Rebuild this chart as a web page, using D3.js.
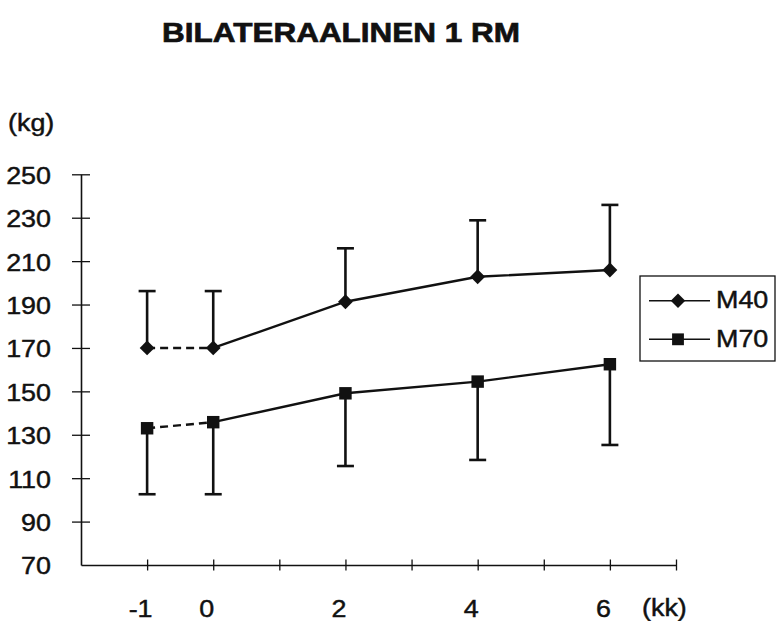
<!DOCTYPE html>
<html>
<head>
<meta charset="utf-8">
<script src="https://cdn.jsdelivr.net/npm/d3@7"></script>
<style>
  html, body { margin: 0; padding: 0; background: #fff; }
  svg { display: block; }
  text { font-family: "Liberation Sans", Arial, Helvetica, sans-serif; fill: #111; stroke: #111; stroke-width: 0.45px; }
</style>
</head>
<body>
<svg id="chart" width="776" height="621"></svg>
<script>
// Measurement times (months) and group means with one-sided error bars
const weeks = [-1, 0, 2, 4, 6];
const m40 = [170, 170, 191.3, 202.8, 205.9];
const m40Upper = [196.2, 196.2, 215.9, 228.8, 235.9];
const m70 = [133, 135.8, 149.1, 154.5, 162.5];
const m70Lower = [102.6, 102.6, 115.6, 118.4, 125.3];

const yTicks = [70, 90, 110, 130, 150, 170, 190, 210, 230, 250];
const xTicks = [-1, 0, 1, 2, 3, 4, 5, 6, 7];
const xLabels = [-1, 0, 2, 4, 6];
const seriesNames = ["M40", "M70"];

const ink = "#111";
const stretch = 1.12; // wide type

const svg = d3.select("#chart");

const x = d3.scaleLinear().domain([-2, 7]).range([81, 676]);
const y = d3.scaleLinear().domain([70, 250]).range([565, 174.3]);

// Title
svg.append("text")
  .attr("transform", "translate(162,42) scale(1.125,1)")
  .style("font-weight", "bold")
  .style("font-size", "28px")
  .style("stroke-width", "0.7px")
  .text("BILATERAALINEN 1 RM");

// Unit labels
svg.append("text")
  .attr("transform", `translate(8,131) scale(${stretch},1)`)
  .style("font-size", "24px")
  .text("(kg)");

svg.append("text")
  .attr("transform", `translate(642,616) scale(${stretch},1)`)
  .style("font-size", "24px")
  .text("(kk)");

// Y axis
const yAxis = svg.append("g")
  .attr("transform", `translate(${x(-2)},0)`)
  .call(d3.axisLeft(y).tickValues(yTicks).tickSizeOuter(0).tickSizeInner(9).tickPadding(0));
yAxis.select(".domain").attr("stroke", ink).attr("stroke-width", 1.6);
yAxis.selectAll(".tick line")
  .attr("stroke", ink).attr("stroke-width", 1.3)
  .attr("x1", -9).attr("x2", 9)
  .style("display", d => d === 70 ? "none" : null);
yAxis.selectAll(".tick text")
  .attr("x", -30 / stretch)
  .attr("dy", "0.37em")
  .attr("transform", `scale(${stretch},1)`)
  .style("font-size", "24px")
  .style("font-family", "'Liberation Sans', Arial, sans-serif")
  .attr("fill", ink);

// X axis
const xAxis = svg.append("g")
  .attr("transform", `translate(0,${y(70)})`)
  .call(d3.axisBottom(x).tickValues(xTicks).tickSizeOuter(0).tickSizeInner(5.5)
    .tickFormat(d => xLabels.includes(d) ? String(d) : ""));
xAxis.select(".domain").attr("stroke", ink).attr("stroke-width", 1.6);
xAxis.selectAll(".tick line")
  .attr("stroke", ink).attr("stroke-width", 1.3)
  .attr("y1", -5.5).attr("y2", 5.5);
xAxis.selectAll(".tick text")
  .attr("y", 52).attr("dy", 0)
  .attr("x", -7 / stretch)
  .attr("transform", `scale(${stretch},1)`)
  .style("font-size", "24px")
  .style("font-family", "'Liberation Sans', Arial, sans-serif")
  .attr("fill", ink);

const pts = (vals) => weeks.map((w, i) => [x(w), y(vals[i])]);
const line = d3.line();

function drawSeries(vals, ends, symbolType, symbolSize, rotate) {
  const g = svg.append("g");
  const p = pts(vals);
  // error bars
  g.selectAll("line.err").data(weeks).enter().append("line")
    .attr("x1", d => x(d)).attr("x2", d => x(d))
    .attr("y1", (d, i) => y(vals[i])).attr("y2", (d, i) => y(ends[i]))
    .attr("stroke", ink).attr("stroke-width", 2.6);
  g.selectAll("line.cap").data(weeks).enter().append("line")
    .attr("x1", d => x(d) - 8.5).attr("x2", d => x(d) + 8.5)
    .attr("y1", (d, i) => y(ends[i])).attr("y2", (d, i) => y(ends[i]))
    .attr("stroke", ink).attr("stroke-width", 2.6);
  // baseline segment dashed, follow-up solid
  g.append("path").attr("d", line(p.slice(0, 2)))
    .attr("fill", "none").attr("stroke", ink).attr("stroke-width", 2.4)
    .attr("stroke-dasharray", "8,5");
  g.append("path").attr("d", line(p.slice(1)))
    .attr("fill", "none").attr("stroke", ink).attr("stroke-width", 2.4);
  g.selectAll("path.mk").data(p).enter().append("path")
    .attr("d", d3.symbol().type(symbolType).size(symbolSize)())
    .attr("transform", d => `translate(${d[0]},${d[1]}) rotate(${rotate})`)
    .attr("fill", ink);
}

drawSeries(m40, m40Upper, d3.symbolSquare, 110, 45);
drawSeries(m70, m70Lower, d3.symbolSquare, 155, 0);

// Legend
const legend = svg.append("g");
legend.append("rect")
  .attr("x", 640).attr("y", 276).attr("width", 135).attr("height", 85)
  .attr("fill", "none").attr("stroke", ink).attr("stroke-width", 1.3);
const legendRows = [
  { name: seriesNames[0], cy: 300.7, size: 105, rot: 45 },
  { name: seriesNames[1], cy: 339.3, size: 140, rot: 0 }
];
legendRows.forEach(r => {
  legend.append("line")
    .attr("x1", 649).attr("x2", 710).attr("y1", r.cy).attr("y2", r.cy)
    .attr("stroke", ink).attr("stroke-width", 1.6);
  legend.append("path")
    .attr("d", d3.symbol().type(d3.symbolSquare).size(r.size)())
    .attr("transform", `translate(678,${r.cy}) rotate(${r.rot})`)
    .attr("fill", ink);
  legend.append("text")
    .attr("transform", `translate(716,${r.cy + 7.5}) scale(${stretch},1)`)
    .style("font-size", "24px")
    .text(r.name);
});
</script>
</body>
</html>
